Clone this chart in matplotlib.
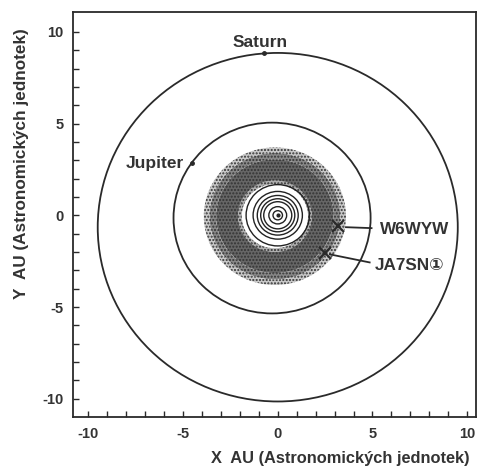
import matplotlib.pyplot as plt
from matplotlib.patches import Circle, Wedge

plt.rcParams['font.family'] = ['Liberation Sans', 'DejaVu Sans']
plt.rcParams['axes.unicode_minus'] = False

# drahy planet: (stred x, stred y, polomer) v AU
saturn_orbit = (0.0, -0.65, 9.5)
jupiter_orbit = (-0.3, -0.15, 5.2)
inner_x = [0.0, 0.0, 0.0, 0.0, 0.0, 0.0, 0.0]
inner_y = [0.0, 0.0, 0.0, 0.0, 0.0, 0.0, 0.0]
inner_r = [0.25, 0.47, 0.74, 0.9, 1.08, 1.3, 1.67]

# pas asteroidu (vnitrni a vnejsi okraje vrstev)
belt_center = (-0.15, -0.05)
belt_inner = [1.75, 1.95, 3.1, 3.45]
belt_outer = [1.95, 3.1, 3.45, 3.75]
belt_shade = ['#b0b0b0', '#666666', '#888888', '#c8c8c8']

# planety a jejich popisky
planet_names = ['Saturn', 'Jupiter']
planet_x = [-0.74, -4.55]
planet_y = [8.85, 2.84]
label_x = [-0.95, -6.5]
label_y = [9.4, 2.84]

# stanice
stations = ['W6WYW', 'JA7SN\u2460']
st_x = [3.17, 2.5]
st_y = [-0.6, -2.07]
line_x0 = [3.6, 2.75]
line_y0 = [-0.65, -2.13]
line_x1 = [4.95, 4.85]
line_y1 = [-0.7, -2.57]
text_x = [5.4, 5.1]
text_y = [-0.75, -2.75]

fig = plt.figure(figsize=(4.84, 4.66), dpi=100)
ax = fig.add_axes([0.151, 0.105, 0.832, 0.87])
ink = '#2a2a2a'

for i in range(len(belt_inner)):
    ax.add_patch(Wedge(belt_center, belt_outer[i], 0, 360, width=belt_outer[i] - belt_inner[i],
                       facecolor=belt_shade[i], edgecolor='#333333', hatch='.....', linewidth=0))

for cx, cy, r in [saturn_orbit, jupiter_orbit]:
    ax.add_patch(Circle((cx, cy), r, fill=False, edgecolor=ink, linewidth=1.3))
for cx, cy, r in zip(inner_x, inner_y, inner_r):
    ax.add_patch(Circle((cx, cy), r, fill=False, edgecolor='#222222', linewidth=1.0))
ax.plot([0], [0], 'o', color='#222222', markersize=2)

ax.plot(planet_x, planet_y, 'o', color=ink, markersize=2.5)
for name, x, y in zip(planet_names, label_x, label_y):
    ax.text(x, y, name, ha='center', va='center', fontsize=12.5, fontweight='bold', color='#333333')

ax.plot(st_x, st_y, 'x', color=ink, markersize=9, markeredgewidth=1.5)
for i in range(len(stations)):
    ax.plot([line_x0[i], line_x1[i]], [line_y0[i], line_y1[i]], color=ink, linewidth=1.3)
    ax.text(text_x[i], text_y[i], stations[i], ha='left', va='center', fontsize=12.3,
            fontweight='bold', color='#333333', family=['Liberation Sans', 'DejaVu Sans'])

ax.set_xlim(-10.8, 10.45)
ax.set_ylim(-11.0, 11.1)
ax.set_xticks([-10, -5, 0, 5, 10])
ax.set_yticks([-10, -5, 0, 5, 10])
ax.set_xticks(range(-10, 11), minor=True)
ax.set_yticks(range(-10, 11), minor=True)
ax.tick_params(which='both', direction='in', length=4, width=1.0, color=ink,
               labelsize=10.5, labelcolor='#333333', pad=7)
for lab in ax.get_xticklabels() + ax.get_yticklabels():
    lab.set_fontweight('bold')
for sp in ax.spines.values():
    sp.set_color(ink)
    sp.set_linewidth(1.3)

fig.text(0.435, 0.016, 'X  AU (Astronomických jednotek)', ha='left', va='center',
         fontsize=11.8, fontweight='bold', color='#333333')
fig.text(0.045, 0.648, 'Y  AU (Astronomických jednotek)', ha='center', va='center',
         rotation=90, fontsize=12.3, fontweight='bold', color='#333333')

fig.savefig('out.png', dpi=100)
